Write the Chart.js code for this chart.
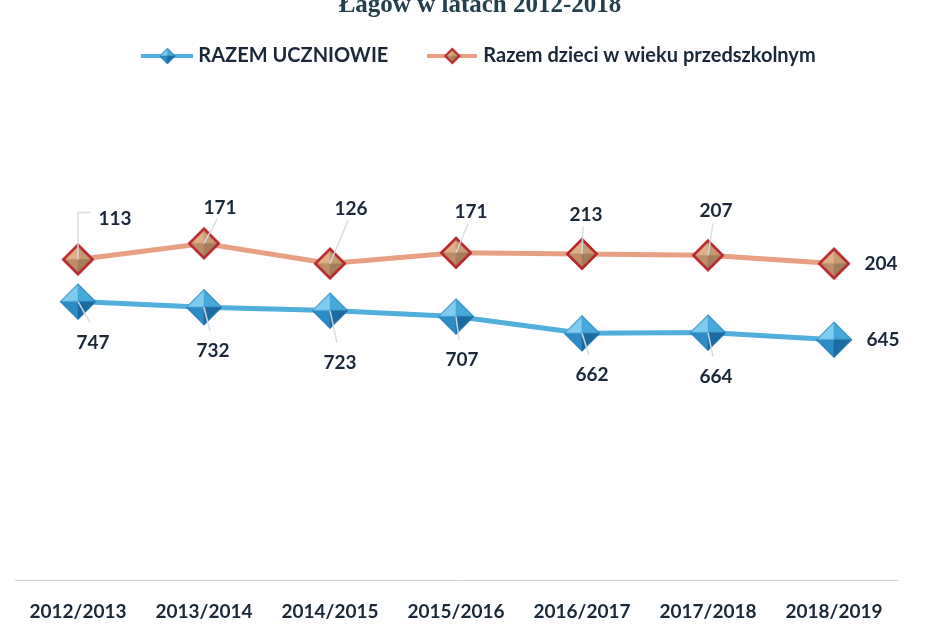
<!DOCTYPE html>
<html>
<head>
<meta charset="utf-8">
<script src="https://cdn.jsdelivr.net/npm/chart.js@4.4.1/dist/chart.umd.min.js"></script>
<style>
html,body{margin:0;padding:0;background:#ffffff;}
#wrap{position:relative;width:938px;height:626px;overflow:hidden;background:#fff;}
#c{position:absolute;left:0;top:0;}
#title{position:absolute;left:480px;top:-9px;transform:translateX(-50%);white-space:nowrap;
  font-family:"Liberation Serif","Times New Roman",serif;font-weight:bold;font-size:25px;line-height:25px;color:#24404d;}
</style>
</head>
<body>
<div id="wrap">
  <canvas id="c" width="938" height="626"></canvas>
  <div id="title">Łagów w latach 2012-2018</div>
</div>
<script>
// ---- data ----
const categories = ['2012/2013','2013/2014','2014/2015','2015/2016','2016/2017','2017/2018','2018/2019'];
const uczniowie = [747, 732, 723, 707, 662, 664, 645];
const przedszkole = [113, 171, 126, 171, 213, 207, 204];
const seriesNames = ['RAZEM UCZNIOWIE', 'Razem dzieci w wieku przedszkolnym'];

// ---- label placement (pixel offsets from each point) ----
const offsetsUczniowie = [[15,41],[9,44],[10,52],[6,43],[10,42],[8,44],[49,0]];
const offsetsPrzedszkole = [[37,-41],[16,-36],[21,-55],[15,-41],[4,-39],[8,-44],[47,0]];

const Y_MAX = 1360;
const TEXT_COLOR = '#1b2838';
const BLUE_LINE = '#52aedb';
const ORANGE_LINE = '#e8a084';

function diamondIcon(r, facets, border, bw, lineColor, lineW, lineLen){
  const pad = 2;
  const w = Math.ceil(Math.max(2*r + 2*pad, lineLen || 0));
  const h = Math.ceil(2*r + 2*pad);
  const c = document.createElement('canvas'); c.width = w; c.height = h;
  const g = c.getContext('2d');
  const cx = w/2, cy = h/2;
  if (lineColor){
    g.strokeStyle = lineColor; g.lineWidth = lineW;
    g.beginPath(); g.moveTo(0, cy); g.lineTo(w, cy); g.stroke();
  }
  const T=[cx,cy-r], R=[cx+r,cy], B=[cx,cy+r], L=[cx-r,cy], C=[cx,cy];
  const tri=(a,b,col)=>{ g.beginPath(); g.moveTo(a[0],a[1]); g.lineTo(b[0],b[1]); g.lineTo(C[0],C[1]); g.closePath();
    g.fillStyle=col; g.fill(); g.strokeStyle=col; g.lineWidth=0.6; g.stroke(); };
  tri(L,T,facets[0]); tri(T,R,facets[1]); tri(L,B,facets[2]); tri(B,R,facets[3]);
  if (border){
    const rr = r - bw/2;
    g.beginPath(); g.moveTo(cx,cy-rr); g.lineTo(cx+rr,cy); g.lineTo(cx,cy+rr); g.lineTo(cx-rr,cy); g.closePath();
    g.strokeStyle=border; g.lineWidth=bw; g.lineJoin='miter'; g.stroke();
  }
  return c;
}
const blueFacets = ['#80cbee','#47a8da','#2d8cc5','#1b6ba1'];
const orangeFacets = ['#ddb088','#c99b74','#bb8e69','#a67d5b'];
const bluePoint = diamondIcon(18, blueFacets, '#2a80b6', 1);
const orangePoint = diamondIcon(16, orangeFacets, '#b8262f', 2.5);
const blueLegend = diamondIcon(8, blueFacets, '#2a80b6', 1, BLUE_LINE, 4, 52);
const orangeLegend = diamondIcon(8, orangeFacets, '#b8262f', 2, ORANGE_LINE, 4, 50);

const labelPlugin = {
  id: 'valueLabels',
  afterDatasetsDraw(chart){
    const ctx = chart.ctx;
    chart.data.datasets.forEach((ds, i) => {
      const meta = chart.getDatasetMeta(i);
      const offs = ds.labelOffsets;
      meta.data.forEach((pt, j) => {
        const dx = offs[j][0], dy = offs[j][1];
        const lx = pt.x + dx, ly = pt.y + dy;
        if (dy !== 0){
          ctx.save();
          ctx.strokeStyle = 'rgba(214,219,226,0.95)';
          ctx.lineWidth = 1.5;
          ctx.beginPath();
          if (Math.abs(dx) > 25){
            ctx.moveTo(pt.x, pt.y);
            ctx.lineTo(pt.x, ly - 6);
            ctx.lineTo(lx - 25, ly - 6);
          } else {
            const ey = dy < 0 ? ly + 12 : ly - 20;
            ctx.moveTo(pt.x, pt.y);
            ctx.lineTo(lx - 3, ey);
          }
          ctx.stroke();
          ctx.restore();
        }
        ctx.save();
        ctx.font = 'bold 19px Lato';
        ctx.fillStyle = TEXT_COLOR;
        ctx.textAlign = 'center';
        ctx.textBaseline = 'middle';
        ctx.fillText(String(ds.data[j]), lx, ly);
        ctx.restore();
      });
    });
  }
};

const legendShift = {
  id: 'legendShift',
  afterLayout(chart){
    const lg = chart.legend;
    lg.left += 25; lg.right += 25;
    lg.top += 3; lg.bottom += 3;
  }
};

new Chart(document.getElementById('c'), {
  type: 'line',
  data: {
    labels: categories,
    datasets: [
      {
        label: seriesNames[0],
        data: uczniowie,
        borderColor: BLUE_LINE,
        backgroundColor: BLUE_LINE,
        borderWidth: 5,
        pointStyle: bluePoint,
        pointRadius: 3,
        pointHoverRadius: 3,
        pointBorderWidth: 0,
        tension: 0,
        fill: false,
        clip: false,
        labelOffsets: offsetsUczniowie
      },
      {
        label: seriesNames[1],
        data: przedszkole,
        borderColor: ORANGE_LINE,
        backgroundColor: ORANGE_LINE,
        borderWidth: 5,
        pointStyle: orangePoint,
        pointRadius: 3,
        pointHoverRadius: 3,
        pointBorderWidth: 0,
        tension: 0,
        fill: false,
        clip: false,
        labelOffsets: offsetsPrzedszkole
      }
    ]
  },
  options: {
    responsive: false,
    animation: false,
    events: [],
    layout: { padding: { left: 15, right: 41, top: 0, bottom: -17 } },
    plugins: {
      title: { display: false },
      tooltip: { enabled: false },
      legend: {
        display: true,
        position: 'top',
        labels: {
          usePointStyle: true,
          pointStyleWidth: 42,
          padding: 43,
          color: TEXT_COLOR,
          font: { family: 'Lato', weight: 'bold', size: 20 },
          generateLabels(chart){
            const items = Chart.defaults.plugins.legend.labels.generateLabels(chart);
            const icons = [blueLegend, orangeLegend];
            items.forEach((it, i) => { it.pointStyle = icons[i]; });
            return items;
          }
        }
      }
    },
    scales: {
      x: {
        offset: true,
        grid: { display: false, drawTicks: false },
        border: { display: true, color: '#d2d2d2', width: 1, dash: [2, 2] },
        ticks: {
          padding: 20,
          color: TEXT_COLOR,
          font: { family: 'Lato', weight: 'bold', size: 19 },
          maxRotation: 0,
          autoSkip: false
        },
        afterFit(scale){ scale.paddingLeft = 0; scale.paddingRight = 0; }
      },
      y: {
        display: false,
        stacked: true,
        min: 0,
        max: Y_MAX
      }
    }
  },
  plugins: [labelPlugin, legendShift]
});
</script>
</body>
</html>
